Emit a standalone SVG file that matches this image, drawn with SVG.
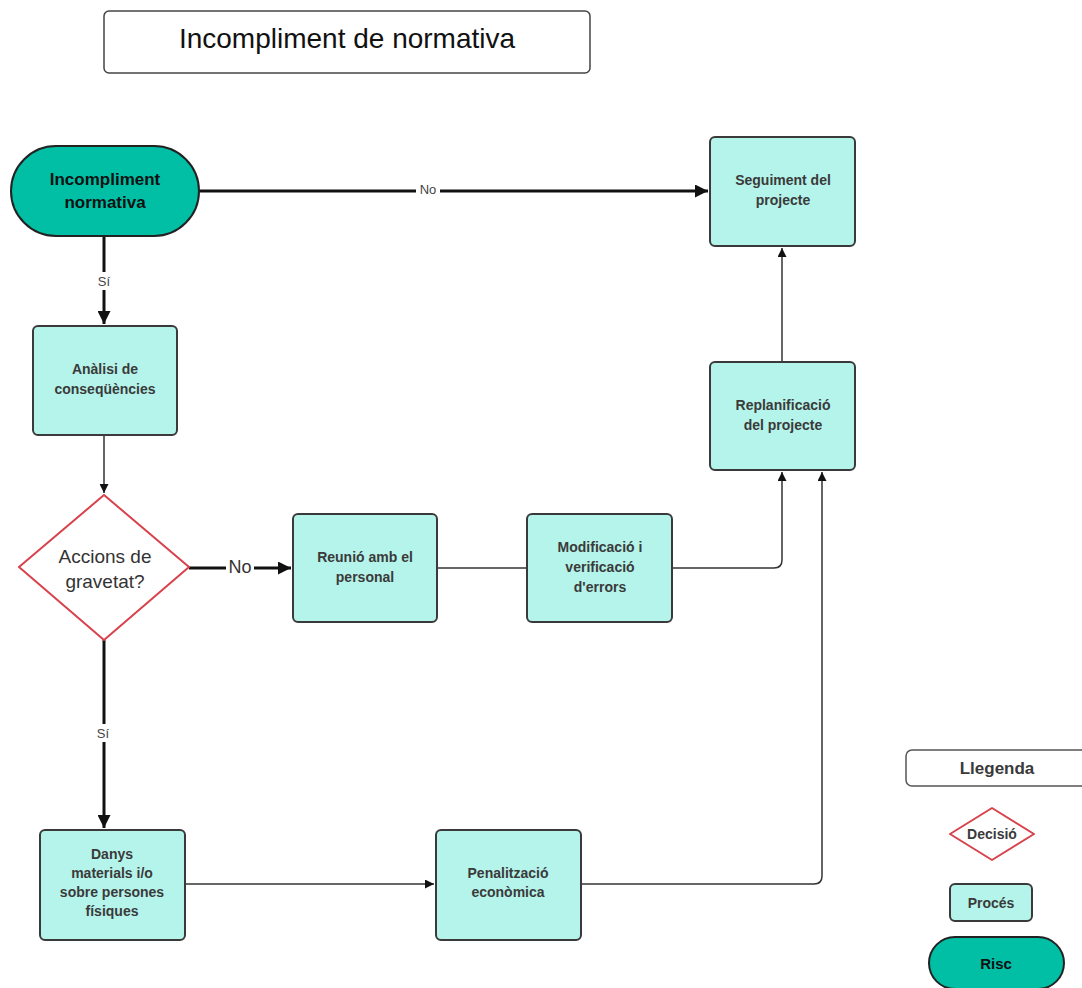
<svg xmlns="http://www.w3.org/2000/svg" width="1082" height="988" viewBox="0 0 1082 988">
<style>
text{font-family:"Liberation Sans",Arial,sans-serif;text-anchor:middle}
.proc{fill:#b5f4eb;stroke:#3a3a3a;stroke-width:2}
.risc{fill:#00bfa5;stroke:#222;stroke-width:2}
.dec{fill:#fff;stroke:#d8424c;stroke-width:2}
.pt{font-size:14px;font-weight:bold;fill:#3a3a3a}
.thick{stroke:#111;stroke-width:3;fill:none}
.thin{stroke:#333;stroke-width:1.5;fill:none}
.lbl{font-size:13px;fill:#444}
</style>
<defs>
<marker id="ah" viewBox="0 0 10 10" refX="10" refY="5" markerWidth="12" markerHeight="9" markerUnits="userSpaceOnUse" orient="auto"><path d="M0,0 L10,5 L0,10 z" fill="#111"/></marker>
<marker id="ahb" viewBox="0 0 10 10" refX="10" refY="5" markerWidth="14" markerHeight="13" markerUnits="userSpaceOnUse" orient="auto"><path d="M0,0 L10,5 L0,10 z" fill="#111"/></marker>
</defs>
<g id="title">
<rect x="104" y="11" width="486" height="62" rx="5" fill="#fff" stroke="#444" stroke-width="1.5"/>
<text x="347" y="48" font-size="28" fill="#111">Incompliment de normativa</text>
</g>
<g id="connectors">
<path class="thick" d="M199,191 H708" marker-end="url(#ahb)"/>
<rect x="416" y="181" width="24" height="16" fill="#fff"/>
<text class="lbl" x="428" y="194">No</text>
<path class="thick" d="M104,236 V324" marker-end="url(#ahb)"/>
<rect x="94" y="272" width="20" height="18" fill="#fff"/>
<text class="lbl" x="104" y="286">Sí</text>
<path class="thin" d="M104,435 V493" marker-end="url(#ah)"/>
<path class="thick" d="M189,568 H291" marker-end="url(#ahb)"/>
<rect x="226" y="557" width="28" height="20" fill="#fff"/>
<text x="240" y="573" font-size="18" fill="#333">No</text>
<path class="thin" d="M437,568 H527"/>
<path class="thin" d="M672,568 H774 Q782,568 782,560 V472" marker-end="url(#ah)"/>
<path class="thin" d="M782,362 V248" marker-end="url(#ah)"/>
<path class="thick" d="M104,640 V828" marker-end="url(#ahb)"/>
<rect x="93" y="724" width="22" height="18" fill="#fff"/>
<text class="lbl" x="103" y="738">Sí</text>
<path class="thin" d="M185,884 H434" marker-end="url(#ah)"/>
<path class="thin" d="M581,884 H814 Q822,884 822,876 V472" marker-end="url(#ah)"/>
</g>
<g id="start">
<rect class="risc" x="11" y="146" width="188" height="90" rx="45"/>
<text x="105" y="185" font-size="17" font-weight="bold" fill="#111">Incompliment</text>
<text x="105" y="208" font-size="17" font-weight="bold" fill="#111">normativa</text>
</g>
<g id="analisi">
<rect class="proc" x="33" y="326" width="144" height="109" rx="5"/>
<text class="pt" x="105" y="374">Anàlisi de</text>
<text class="pt" x="105" y="394">conseqüències</text>
</g>
<g id="decisio">
<path class="dec" d="M104,495 L189,567 L104,640 L19,567 Z" stroke-linejoin="round"/>
<text x="105" y="563" font-size="19" fill="#333">Accions de</text>
<text x="105" y="588" font-size="19" fill="#333">gravetat?</text>
</g>
<g id="reunio">
<rect class="proc" x="293" y="514" width="144" height="108" rx="5"/>
<text class="pt" x="365" y="562">Reunió amb el</text>
<text class="pt" x="365" y="582">personal</text>
</g>
<g id="modificacio">
<rect class="proc" x="527" y="514" width="145" height="108" rx="5"/>
<text class="pt" x="600" y="552">Modificació i</text>
<text class="pt" x="600" y="572">verificació</text>
<text class="pt" x="600" y="592">d'errors</text>
</g>
<g id="seguiment">
<rect class="proc" x="710" y="137" width="145" height="109" rx="5"/>
<text class="pt" x="783" y="185">Seguiment del</text>
<text class="pt" x="783" y="205">projecte</text>
</g>
<g id="replanificacio">
<rect class="proc" x="710" y="362" width="145" height="108" rx="5"/>
<text class="pt" x="783" y="410">Replanificació</text>
<text class="pt" x="783" y="430">del projecte</text>
</g>
<g id="danys">
<rect class="proc" x="40" y="830" width="145" height="110" rx="5"/>
<text class="pt" x="112" y="859">Danys</text>
<text class="pt" x="112" y="878">materials i/o</text>
<text class="pt" x="112" y="897">sobre persones</text>
<text class="pt" x="112" y="916">físiques</text>
</g>
<g id="penalitzacio">
<rect class="proc" x="436" y="830" width="145" height="110" rx="5"/>
<text class="pt" x="508" y="878">Penalització</text>
<text class="pt" x="508" y="897">econòmica</text>
</g>
<g id="legend">
<rect x="906" y="750" width="190" height="36" rx="6" fill="#fff" stroke="#555" stroke-width="1.5"/>
<text x="997" y="774" font-size="17" font-weight="bold" fill="#3a3a3a">Llegenda</text>
<path class="dec" d="M992,808 L1034,834 L992,860 L950,834 Z" stroke-linejoin="round"/>
<text class="pt" x="992" y="839">Decisió</text>
<rect class="proc" x="950" y="884" width="82" height="37" rx="5"/>
<text class="pt" x="991" y="908">Procés</text>
<rect class="risc" x="929" y="937" width="135" height="52" rx="26"/>
<text x="996" y="969" font-size="15" font-weight="bold" fill="#111">Risc</text>
</g>
</svg>
